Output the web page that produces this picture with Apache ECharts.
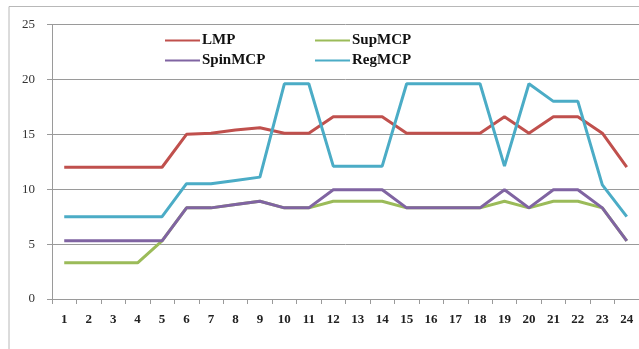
<!DOCTYPE html>
<html><head><meta charset="utf-8">
<script src="https://cdn.jsdelivr.net/npm/echarts@6/dist/echarts.min.js"></script>
<style>html,body{margin:0;padding:0;background:#fff}#c{width:639px;height:349px}</style>
</head><body><div id="c"></div>
<script>
var hours = ['1','2','3','4','5','6','7','8','9','10','11','12','13','14','15','16','17','18','19','20','21','22','23','24'];
var lmp     = [12,12,12,12,12,15,15.1,15.4,15.6,15.1,15.1,16.6,16.6,16.6,15.1,15.1,15.1,15.1,16.6,15.1,16.6,16.6,15.1,12];
var supMCP  = [3.3,3.3,3.3,3.3,5.3,8.3,8.3,8.6,8.9,8.3,8.3,8.9,8.9,8.9,8.3,8.3,8.3,8.3,8.9,8.3,8.9,8.9,8.3,5.3];
var spinMCP = [5.3,5.3,5.3,5.3,5.3,8.3,8.3,8.6,8.9,8.3,8.3,9.95,9.95,9.95,8.3,8.3,8.3,8.3,9.95,8.3,9.95,9.95,8.3,5.3];
var regMCP  = [7.5,7.5,7.5,7.5,7.5,10.5,10.5,10.8,11.1,19.6,19.6,12.1,12.1,12.1,19.6,19.6,19.6,19.6,12.1,19.6,18,18,10.4,7.5];
var yTicks = [0,5,10,15,20,25];

var serif = '"Liberation Serif","DejaVu Serif",serif';
var chart = echarts.init(document.getElementById('c'), null, {renderer:'canvas'});
function mk(name, data, color){
  return {name:name, type:'line', data:data, symbol:'none', showSymbol:false, lineStyle:{color:color, width:3}, itemStyle:{color:color}};
}
var legText = {fontFamily:serif, fontSize:15, fontWeight:'bold', color:'#111', padding:[0,0,0,-3]};
chart.setOption({
  animation:false,
  backgroundColor:'#fff',
  graphic:[
    {type:'polyline', shape:{points:[[9,349],[9,6.5],[639,6.5]]}, style:{stroke:'#b8b8b8', lineWidth:1, fill:null}}
  ],
  grid:{left:52, top:24.5, width:590, height:274.5, containLabel:false},
  legend:[
    {data:['LMP','SpinMCP'], orient:'vertical', left:160, top:28, icon:'rect', itemWidth:35, itemHeight:2, itemGap:5,
     textStyle:legText},
    {data:['SupMCP','RegMCP'], orient:'vertical', left:310, top:28, icon:'rect', itemWidth:35, itemHeight:2, itemGap:5,
     textStyle:legText}
  ],
  xAxis:{type:'category', data:hours, boundaryGap:true,
    axisLine:{lineStyle:{color:'#9a9a9a', width:1}},
    axisTick:{show:true, length:5, lineStyle:{color:'#9a9a9a'}},
    axisLabel:{fontFamily:serif, fontSize:13, fontWeight:'bold', color:'#222', margin:14}},
  yAxis:{type:'value', min:0, max:25, interval:5,
    axisLine:{show:true, lineStyle:{color:'#9a9a9a'}},
    axisTick:{show:true, length:5, lineStyle:{color:'#9a9a9a'}},
    splitLine:{lineStyle:{color:'#9a9a9a', width:1}},
    axisLabel:{fontFamily:serif, fontSize:13, color:'#333', margin:17}},
  series:[
    mk('LMP', lmp, '#C0504D'),
    mk('SupMCP', supMCP, '#9BBB59'),
    mk('SpinMCP', spinMCP, '#8064A2'),
    mk('RegMCP', regMCP, '#4BACC6')
  ]
});
</script></body></html>
